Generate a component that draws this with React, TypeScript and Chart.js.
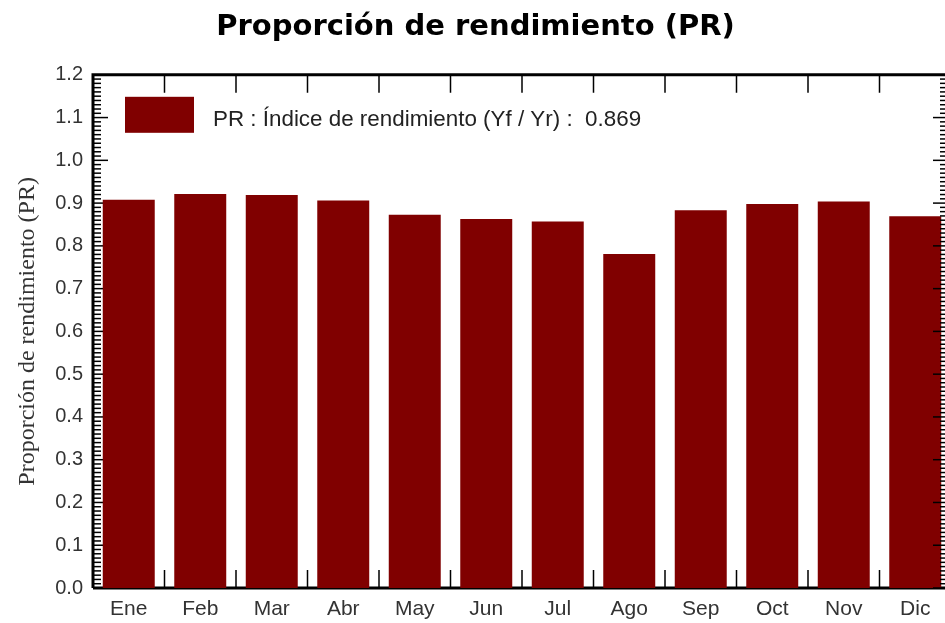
import React, { useEffect, useRef } from 'react';
import { Chart, registerables } from 'chart.js';

Chart.register(...registerables);

// ---- data ----
const MONTHS = ['Ene', 'Feb', 'Mar', 'Abr', 'May', 'Jun', 'Jul', 'Ago', 'Sep', 'Oct', 'Nov', 'Dic'];
const PR_VALUES = [0.908, 0.921, 0.919, 0.906, 0.873, 0.863, 0.857, 0.781, 0.883, 0.898, 0.904, 0.869];
const PR_ANNUAL = 0.869;
const Y_MIN = 0;
const Y_MAX = 1.2;
const Y_STEP = 0.1;
const Y_MINOR_STEP = 0.01;
const CHART_TITLE = 'Proporción de rendimiento (PR)';
const Y_AXIS_TITLE = 'Proporción de rendimiento (PR)';
const SERIES_LABEL = 'PR : Índice de rendimiento (Yf / Yr) :  ' + PR_ANNUAL.toFixed(3);

const BAR_COLOR = '#800000';
const PLOT_RIGHT = 945;

const framePlugin = {
  id: 'frame',
  beforeDatasetsDraw(chart: any) {
    const { ctx, chartArea: a, scales } = chart;
    const xs = scales.x;
    const ys = scales.y;
    const L = a.left, T = a.top, B = a.bottom, R = PLOT_RIGHT;
    ctx.save();
    ctx.strokeStyle = '#000';
    ctx.lineWidth = 1.5;
    const n = Math.round((Y_MAX - Y_MIN) / Y_MINOR_STEP);
    for (let i = 0; i <= n; i++) {
      const v = Y_MIN + i * Y_MINOR_STEP;
      const py = ys.getPixelForValue(v);
      const major = i % Math.round(Y_STEP / Y_MINOR_STEP) === 0;
      ctx.beginPath();
      ctx.moveTo(L, py);
      ctx.lineTo(L + (major ? 15 : 8), py);
      ctx.stroke();
    }
    for (let i = 1; i < MONTHS.length; i++) {
      const px = (xs.getPixelForValue(i - 1) + xs.getPixelForValue(i)) / 2;
      if (px > R) continue;
      ctx.beginPath();
      ctx.moveTo(px, T);
      ctx.lineTo(px, T + 18);
      ctx.moveTo(px, B);
      ctx.lineTo(px, B - 18);
      ctx.stroke();
    }
    ctx.lineWidth = 3;
    ctx.beginPath();
    ctx.moveTo(L, B);
    ctx.lineTo(L, T);
    ctx.lineTo(R + 3, T);
    ctx.moveTo(L, B);
    ctx.lineTo(R + 3, B);
    ctx.stroke();
    ctx.restore();
  },
  afterDatasetsDraw(chart: any) {
    const { ctx, chartArea: a, scales } = chart;
    const ys = scales.y;
    const R = PLOT_RIGHT;
    ctx.save();
    ctx.strokeStyle = '#000';
    ctx.lineWidth = 1.5;
    const n = Math.round((Y_MAX - Y_MIN) / Y_MINOR_STEP);
    for (let i = 0; i <= n; i++) {
      const v = Y_MIN + i * Y_MINOR_STEP;
      const py = ys.getPixelForValue(v);
      const major = i % Math.round(Y_STEP / Y_MINOR_STEP) === 0;
      ctx.beginPath();
      ctx.moveTo(R, py);
      ctx.lineTo(R - (major ? 12 : 5), py);
      ctx.stroke();
    }
    // legend inside plot
    const ds = chart.data.datasets[0];
    ctx.fillStyle = ds.backgroundColor;
    ctx.fillRect(a.left + 32, a.top + 22, 69, 36);
    ctx.fillStyle = '#222';
    ctx.font = '22.4px "Liberation Sans", Arial, sans-serif';
    ctx.textAlign = 'left';
    ctx.textBaseline = 'alphabetic';
    ctx.fillText(ds.label, a.left + 120, a.top + 51.5);
    ctx.restore();
  },
};

export default function App() {
  const canvasRef = useRef<HTMLCanvasElement | null>(null);

  useEffect(() => {
    const canvas = canvasRef.current;
    if (!canvas) return;
    const chart = new Chart(canvas, {
      type: 'bar',
      data: {
        labels: MONTHS,
        datasets: [
          {
            label: SERIES_LABEL,
            data: PR_VALUES,
            backgroundColor: BAR_COLOR,
            borderWidth: 0,
            barPercentage: 0.727,
            categoryPercentage: 1,
          },
        ],
      },
      options: {
        responsive: false,
        animation: false,
        devicePixelRatio: 1,
        layout: { padding: { left: 0, right: 9, top: 0, bottom: 0 } },
        plugins: {
          legend: { display: false },
          tooltip: { enabled: false },
          title: {
            display: true,
            text: CHART_TITLE,
            color: '#000',
            font: { family: '"DejaVu Sans", sans-serif', size: 29, weight: 'bold', lineHeight: 1.2 },
            padding: { top: 10, bottom: 30 },
          },
        },
        scales: {
          x: {
            grid: { display: false, drawTicks: false },
            border: { display: false },
            ticks: {
              color: '#333',
              padding: 9,
              font: { family: '"Liberation Sans", Arial, sans-serif', size: 21 },
              maxRotation: 0,
            },
            afterFit(scale: any) {
              scale.height = 35;
            },
          },
          y: {
            min: Y_MIN,
            max: Y_MAX,
            grid: { display: false, drawTicks: false },
            border: { display: false },
            ticks: {
              stepSize: Y_STEP,
              color: '#333',
              padding: 10,
              font: { family: '"Liberation Sans", Arial, sans-serif', size: 20 },
              callback: (v: any) => Number(v).toFixed(1),
            },
            title: {
              display: true,
              text: Y_AXIS_TITLE,
              color: '#333',
              font: { family: '"Liberation Serif", "Times New Roman", serif', size: 24 },
              padding: { top: 13, bottom: 0 },
            },
            afterFit(scale: any) {
              scale.width = 93;
            },
          },
        },
      },
      plugins: [framePlugin],
    });
    return () => chart.destroy();
  }, []);

  return (
    <div style={{ position: 'absolute', left: 0, top: 0, width: 945, height: 623, overflow: 'hidden', background: '#fff' }}>
      <canvas ref={canvasRef} width={960} height={623} style={{ width: 960, height: 623, display: 'block' }} />
    </div>
  );
}
